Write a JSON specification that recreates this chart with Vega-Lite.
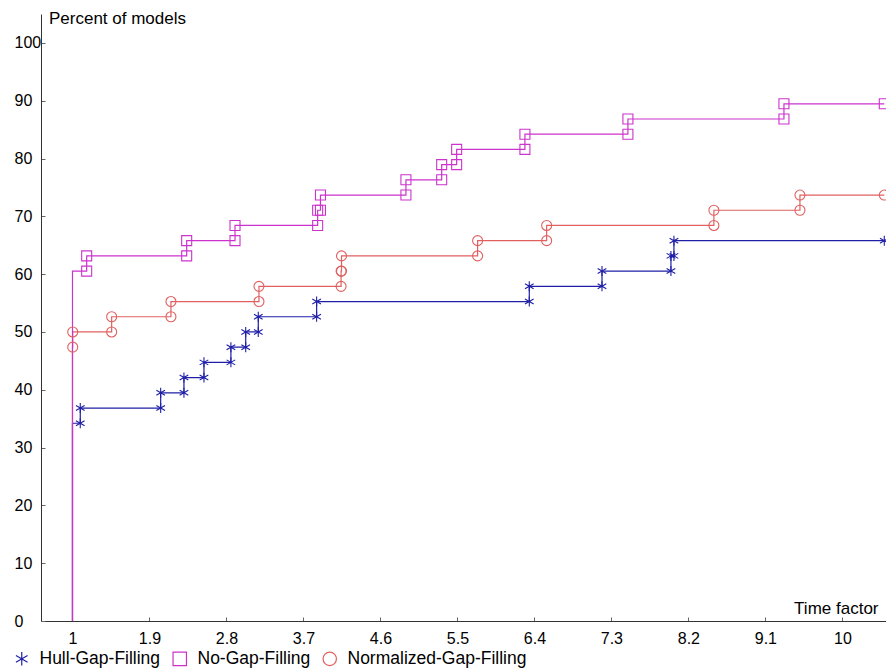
{
  "$schema": "https://vega.github.io/schema/vega-lite/v6.json",
  "width": 845,
  "height": 607,
  "autosize": {"type": "none"},
  "padding": {"left": 41, "top": 14, "right": 0, "bottom": 48},
  "background": "white",
  "config": {
    "view": {"stroke": null},
    "font": "Liberation Sans",
    "axis": {"grid": false, "labelColor": "black", "titleColor": "black", "titleFontWeight": "normal", "domainColor": "#333333", "tickColor": "#666666", "labelFont": "Liberation Sans", "titleFont": "Liberation Sans"}
  },
  "datasets": {
    "steps": [
      {"method": "Normalized-Gap-Filling", "tau": 1, "percent": 0},
      {"method": "Normalized-Gap-Filling", "tau": 1, "percent": 47.37},
      {"method": "Normalized-Gap-Filling", "tau": 1.003, "percent": 50},
      {"method": "Normalized-Gap-Filling", "tau": 1.458, "percent": 52.63},
      {"method": "Normalized-Gap-Filling", "tau": 2.151, "percent": 55.26},
      {"method": "Normalized-Gap-Filling", "tau": 3.18, "percent": 57.89},
      {"method": "Normalized-Gap-Filling", "tau": 4.14, "percent": 60.53},
      {"method": "Normalized-Gap-Filling", "tau": 4.145, "percent": 63.16},
      {"method": "Normalized-Gap-Filling", "tau": 5.736, "percent": 65.79},
      {"method": "Normalized-Gap-Filling", "tau": 6.543, "percent": 68.42},
      {"method": "Normalized-Gap-Filling", "tau": 8.498, "percent": 71.05},
      {"method": "Normalized-Gap-Filling", "tau": 9.504, "percent": 73.68},
      {"method": "Normalized-Gap-Filling", "tau": 10.49, "percent": 73.68},
      {"method": "Hull-Gap-Filling", "tau": 1, "percent": 0},
      {"method": "Hull-Gap-Filling", "tau": 1, "percent": 34.21},
      {"method": "Hull-Gap-Filling", "tau": 1.091, "percent": 36.84},
      {"method": "Hull-Gap-Filling", "tau": 2.031, "percent": 39.47},
      {"method": "Hull-Gap-Filling", "tau": 2.303, "percent": 42.11},
      {"method": "Hull-Gap-Filling", "tau": 2.537, "percent": 44.74},
      {"method": "Hull-Gap-Filling", "tau": 2.852, "percent": 47.37},
      {"method": "Hull-Gap-Filling", "tau": 3.025, "percent": 50},
      {"method": "Hull-Gap-Filling", "tau": 3.172, "percent": 52.63},
      {"method": "Hull-Gap-Filling", "tau": 3.854, "percent": 55.26},
      {"method": "Hull-Gap-Filling", "tau": 6.34, "percent": 57.89},
      {"method": "Hull-Gap-Filling", "tau": 7.19, "percent": 60.53},
      {"method": "Hull-Gap-Filling", "tau": 7.996, "percent": 63.16},
      {"method": "Hull-Gap-Filling", "tau": 8.031, "percent": 65.79},
      {"method": "Hull-Gap-Filling", "tau": 10.49, "percent": 65.79},
      {"method": "No-Gap-Filling", "tau": 1, "percent": 0},
      {"method": "No-Gap-Filling", "tau": 1, "percent": 60.53},
      {"method": "No-Gap-Filling", "tau": 1.166, "percent": 63.16},
      {"method": "No-Gap-Filling", "tau": 2.335, "percent": 65.79},
      {"method": "No-Gap-Filling", "tau": 2.9, "percent": 68.42},
      {"method": "No-Gap-Filling", "tau": 3.866, "percent": 71.05},
      {"method": "No-Gap-Filling", "tau": 3.899, "percent": 73.68},
      {"method": "No-Gap-Filling", "tau": 4.898, "percent": 76.32},
      {"method": "No-Gap-Filling", "tau": 5.316, "percent": 78.95},
      {"method": "No-Gap-Filling", "tau": 5.491, "percent": 81.58},
      {"method": "No-Gap-Filling", "tau": 6.289, "percent": 84.21},
      {"method": "No-Gap-Filling", "tau": 7.493, "percent": 86.84},
      {"method": "No-Gap-Filling", "tau": 9.317, "percent": 89.47},
      {"method": "No-Gap-Filling", "tau": 10.49, "percent": 89.47}
    ],
    "markers": [
      {"method": "Hull-Gap-Filling", "tau": 1.091, "percent": 34.21},
      {"method": "Hull-Gap-Filling", "tau": 1.091, "percent": 36.84},
      {"method": "Hull-Gap-Filling", "tau": 2.031, "percent": 36.84},
      {"method": "Hull-Gap-Filling", "tau": 2.031, "percent": 39.47},
      {"method": "Hull-Gap-Filling", "tau": 2.303, "percent": 39.47},
      {"method": "Hull-Gap-Filling", "tau": 2.303, "percent": 42.11},
      {"method": "Hull-Gap-Filling", "tau": 2.537, "percent": 42.11},
      {"method": "Hull-Gap-Filling", "tau": 2.537, "percent": 44.74},
      {"method": "Hull-Gap-Filling", "tau": 2.852, "percent": 44.74},
      {"method": "Hull-Gap-Filling", "tau": 2.852, "percent": 47.37},
      {"method": "Hull-Gap-Filling", "tau": 3.025, "percent": 47.37},
      {"method": "Hull-Gap-Filling", "tau": 3.025, "percent": 50},
      {"method": "Hull-Gap-Filling", "tau": 3.172, "percent": 50},
      {"method": "Hull-Gap-Filling", "tau": 3.172, "percent": 52.63},
      {"method": "Hull-Gap-Filling", "tau": 3.854, "percent": 52.63},
      {"method": "Hull-Gap-Filling", "tau": 3.854, "percent": 55.26},
      {"method": "Hull-Gap-Filling", "tau": 6.34, "percent": 55.26},
      {"method": "Hull-Gap-Filling", "tau": 6.34, "percent": 57.89},
      {"method": "Hull-Gap-Filling", "tau": 7.19, "percent": 57.89},
      {"method": "Hull-Gap-Filling", "tau": 7.19, "percent": 60.53},
      {"method": "Hull-Gap-Filling", "tau": 7.996, "percent": 60.53},
      {"method": "Hull-Gap-Filling", "tau": 7.996, "percent": 63.16},
      {"method": "Hull-Gap-Filling", "tau": 8.031, "percent": 63.16},
      {"method": "Hull-Gap-Filling", "tau": 8.031, "percent": 65.79},
      {"method": "Hull-Gap-Filling", "tau": 10.49, "percent": 65.79},
      {"method": "No-Gap-Filling", "tau": 1.166, "percent": 60.53},
      {"method": "No-Gap-Filling", "tau": 1.166, "percent": 63.16},
      {"method": "No-Gap-Filling", "tau": 2.335, "percent": 63.16},
      {"method": "No-Gap-Filling", "tau": 2.335, "percent": 65.79},
      {"method": "No-Gap-Filling", "tau": 2.9, "percent": 65.79},
      {"method": "No-Gap-Filling", "tau": 2.9, "percent": 68.42},
      {"method": "No-Gap-Filling", "tau": 3.866, "percent": 68.42},
      {"method": "No-Gap-Filling", "tau": 3.866, "percent": 71.05},
      {"method": "No-Gap-Filling", "tau": 3.899, "percent": 71.05},
      {"method": "No-Gap-Filling", "tau": 3.899, "percent": 73.68},
      {"method": "No-Gap-Filling", "tau": 4.898, "percent": 73.68},
      {"method": "No-Gap-Filling", "tau": 4.898, "percent": 76.32},
      {"method": "No-Gap-Filling", "tau": 5.316, "percent": 76.32},
      {"method": "No-Gap-Filling", "tau": 5.316, "percent": 78.95},
      {"method": "No-Gap-Filling", "tau": 5.491, "percent": 78.95},
      {"method": "No-Gap-Filling", "tau": 5.491, "percent": 81.58},
      {"method": "No-Gap-Filling", "tau": 6.289, "percent": 81.58},
      {"method": "No-Gap-Filling", "tau": 6.289, "percent": 84.21},
      {"method": "No-Gap-Filling", "tau": 7.493, "percent": 84.21},
      {"method": "No-Gap-Filling", "tau": 7.493, "percent": 86.84},
      {"method": "No-Gap-Filling", "tau": 9.317, "percent": 86.84},
      {"method": "No-Gap-Filling", "tau": 9.317, "percent": 89.47},
      {"method": "No-Gap-Filling", "tau": 10.49, "percent": 89.47},
      {"method": "Normalized-Gap-Filling", "tau": 1.003, "percent": 47.37},
      {"method": "Normalized-Gap-Filling", "tau": 1.003, "percent": 50},
      {"method": "Normalized-Gap-Filling", "tau": 1.458, "percent": 50},
      {"method": "Normalized-Gap-Filling", "tau": 1.458, "percent": 52.63},
      {"method": "Normalized-Gap-Filling", "tau": 2.151, "percent": 52.63},
      {"method": "Normalized-Gap-Filling", "tau": 2.151, "percent": 55.26},
      {"method": "Normalized-Gap-Filling", "tau": 3.18, "percent": 55.26},
      {"method": "Normalized-Gap-Filling", "tau": 3.18, "percent": 57.89},
      {"method": "Normalized-Gap-Filling", "tau": 4.14, "percent": 57.89},
      {"method": "Normalized-Gap-Filling", "tau": 4.14, "percent": 60.53},
      {"method": "Normalized-Gap-Filling", "tau": 4.145, "percent": 60.53},
      {"method": "Normalized-Gap-Filling", "tau": 4.145, "percent": 63.16},
      {"method": "Normalized-Gap-Filling", "tau": 5.736, "percent": 63.16},
      {"method": "Normalized-Gap-Filling", "tau": 5.736, "percent": 65.79},
      {"method": "Normalized-Gap-Filling", "tau": 6.543, "percent": 65.79},
      {"method": "Normalized-Gap-Filling", "tau": 6.543, "percent": 68.42},
      {"method": "Normalized-Gap-Filling", "tau": 8.498, "percent": 68.42},
      {"method": "Normalized-Gap-Filling", "tau": 8.498, "percent": 71.05},
      {"method": "Normalized-Gap-Filling", "tau": 9.504, "percent": 71.05},
      {"method": "Normalized-Gap-Filling", "tau": 9.504, "percent": 73.68},
      {"method": "Normalized-Gap-Filling", "tau": 10.49, "percent": 73.68}
    ]
  },
  "encoding": {
    "x": {
      "field": "tau",
      "type": "quantitative",
      "scale": {"domain": [0.632, 10.51], "nice": false, "zero": false},
      "axis": {
        "title": "Time factor",
        "values": [1, 1.9, 2.8, 3.7, 4.6, 5.5, 6.4, 7.3, 8.2, 9.1, 10],
        "format": ".2~r",
        "tickSize": -4,
        "labelPadding": 13,
        "labelFontSize": 16,
        "labelFlush": false,
        "labelOverlap": false,
        "titleFontSize": 17,
        "titleAnchor": "start",
        "titleAlign": "right",
        "titleBaseline": "alphabetic",
        "titleX": 837,
        "titleY": -8
      }
    },
    "y": {
      "field": "percent",
      "type": "quantitative",
      "scale": {"domain": [0, 105], "nice": false},
      "axis": {
        "title": "Percent of models",
        "values": [0, 10, 20, 30, 40, 50, 60, 70, 80, 90, 100],
        "tickSize": -4,
        "labelPadding": 31,
        "labelAlign": "left",
        "labelFontSize": 16,
        "labelFlush": false,
        "labelOverlap": false,
        "titleFontSize": 17,
        "titleAngle": 0,
        "titleAlign": "left",
        "titleBaseline": "alphabetic",
        "titleX": 7.5,
        "titleY": 9
      }
    },
    "color": {
      "field": "method",
      "type": "nominal",
      "scale": {
        "domain": ["Hull-Gap-Filling", "No-Gap-Filling", "Normalized-Gap-Filling"],
        "range": ["#1f1fa8", "#cc33cc", "#e06060"]
      },
      "legend": {
        "orient": "none",
        "legendX": -28,
        "legendY": 636,
        "direction": "horizontal",
        "title": null,
        "labelFontSize": 17.5,
        "labelLimit": 0,
        "labelColor": "black",
        "symbolSize": 180,
        "symbolStrokeWidth": 1.2,
        "labelOffset": 9,
        "columnPadding": 9
      }
    }
  },
  "layer": [
    {
      "data": {"name": "steps"},
      "mark": {"type": "line", "interpolate": "step-after", "strokeWidth": 1.2}
    },
    {
      "data": {"name": "markers"},
      "mark": {"type": "point", "filled": false, "size": 100, "strokeWidth": 1.1, "opacity": 1},
      "encoding": {
        "shape": {
          "field": "method",
          "type": "nominal",
          "scale": {
            "domain": ["Hull-Gap-Filling", "No-Gap-Filling", "Normalized-Gap-Filling"],
            "range": ["M0,-1L0,1M-0.866,-0.5L0.866,0.5M-0.866,0.5L0.866,-0.5", "square", "circle"]
          },
          "legend": {
            "orient": "none",
            "legendX": -28,
            "legendY": 636,
            "direction": "horizontal",
            "title": null,
            "labelFontSize": 17.5,
            "labelLimit": 0,
            "labelColor": "black",
            "symbolSize": 180,
            "symbolStrokeWidth": 1.2,
            "labelOffset": 9,
            "columnPadding": 9
          }
        }
      }
    }
  ]
}
